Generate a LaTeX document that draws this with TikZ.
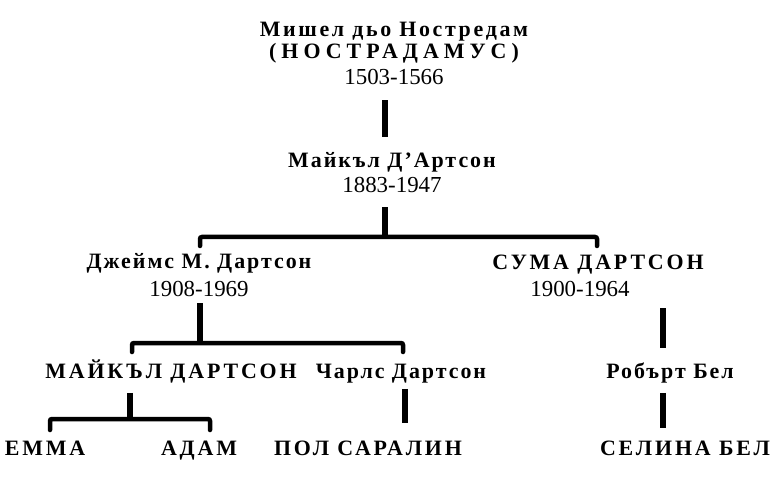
\documentclass[tikz,border=0pt]{standalone}
\usepackage{fontspec}
\setmainfont{Liberation Serif}
\newfontfamily\namefont{Liberation Serif}[LetterSpace=9]
\newfontfamily\capsfont{Liberation Serif}[LetterSpace=13]
\usetikzlibrary{calc}

\newcommand\yrs[1]{{\normalfont\fontsize{23}{25}\selectfont #1}}

\begin{document}
\begin{tikzpicture}[x=1bp,y=-1bp,
  person/.style={font=\namefont\bfseries\fontsize{22}{26}\selectfont,
                 inner sep=0pt,align=center,anchor=base},
  caps/.style={person,font=\capsfont\bfseries\fontsize{22}{26}\selectfont},
  stem/.style={line width=6bp},
  bar/.style={line width=4.5bp,rounded corners=2bp,line cap=round}]
\useasboundingbox (0,0) rectangle (782,479);

% generations (base = last line)
\node[person] (nost) at (394,85)
  {\addfontfeature{LetterSpace=12}Мишел дьо Нострeдам\\[-4bp]
   \addfontfeature{LetterSpace=23}(НОСТРАДАМУС)\\[1bp]\yrs{1503-1566}};
\node[person] (mdart) at (392,193) {Майкъл Д’Артсон\\\yrs{1883-1947}};
\node[person] (jam) at (199,297) {Джеймс М. Дартсон\\[3bp]\yrs{1908-1969}};
\node[caps] (suma) at (598,297) {СУМА ДАРТСОН\\[2bp]\yrs{1900-1964}\hspace*{36bp}};
\node[caps] (mic) at (171,378) {МАЙКЪЛ ДАРТСОН};
\node[person] (cha) at (401,378) {Чарлс Дартсон};
\node[person] (rob) at (670,378) {Робърт Бел};
\node[caps] (emma) at (45,455) {ЕММА};
\node[caps] (adam) at (199,455) {АДАМ};
\node[caps] (pol) at (368,455) {ПОЛ САРАЛИН};
\node[caps] (sel) at (685,455) {СЕЛИНА БЕЛ};

% junctions
\coordinate (k1) at (385,237);
\coordinate (k2) at (200,343);
\coordinate (k3) at (130,419);
\coordinate (rc) at (663,0);
\coordinate (b1l) at (200,246);
\coordinate (b1r) at (597,246);
\coordinate (b2l) at (132,352);
\coordinate (b2r) at (403,352);
\coordinate (b3l) at (50,430);
\coordinate (b3r) at (210,430);

\draw[stem,shorten <=15bp,shorten >=15bp] (nost.south -| k1) -- (mdart.north -| k1);
\draw[stem,shorten <=14bp] (mdart.south -| k1) -- (k1);
\draw[bar] (b1l) |- (k1) -| (b1r);

\draw[stem,shorten <=6bp] (jam.south -| k2) -- (k2);
\draw[bar] (b2l) |- (k2) -| (b2r);

\draw[stem,shorten <=10bp] (mic.south -| k3) -- (k3);
\draw[bar] (b3l) |- (k3) -| (b3r);

\draw[stem,shorten <=6bp,shorten >=17bp] ([xshift=4bp]cha.south) -- ([xshift=4bp]pol.north -| cha);
\draw[stem,shorten <=11bp,shorten >=14bp] (suma.south -| rc) -- (rob.north -| rc);
\draw[stem,shorten <=10bp,shorten >=12bp] (rob.south -| rc) -- (sel.north -| rc);
\end{tikzpicture}
\end{document}
